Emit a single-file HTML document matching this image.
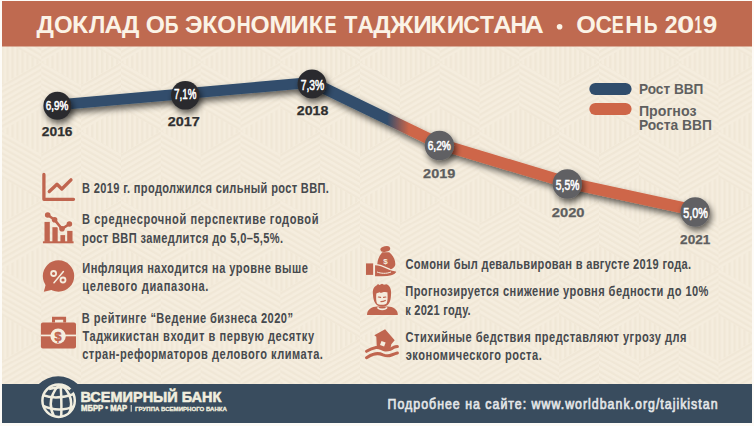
<!DOCTYPE html><html><head><meta charset="utf-8"><style>html,body{margin:0;padding:0;background:#FDFBF7;}svg{display:block;font-family:"Liberation Sans",sans-serif;}</style></head><body>
<svg width="754" height="426" viewBox="0 0 754 426">
<defs>
<filter id="sh" x="-30%" y="-30%" width="160%" height="180%"><feGaussianBlur in="SourceAlpha" stdDeviation="3"/><feOffset dx="1.5" dy="4" result="b"/><feComponentTransfer><feFuncA type="linear" slope="0.6"/></feComponentTransfer><feMerge><feMergeNode/><feMergeNode in="SourceGraphic"/></feMerge></filter>
<linearGradient id="lg" gradientUnits="userSpaceOnUse" x1="387" y1="0" x2="409" y2="0"><stop offset="0" stop-color="#304D6C"/><stop offset="1" stop-color="#CE6648"/></linearGradient>
</defs>
<rect x="0" y="0" width="754" height="426" fill="#FDFBF7"/>
<rect x="2" y="1" width="750" height="422" fill="#F5EDDE"/>
<defs>
<pattern id="pv" width="5" height="5" patternUnits="userSpaceOnUse"><rect width="2.2" height="5" fill="#F0E7D6"/></pattern>
<pattern id="pa" width="5" height="5" patternUnits="userSpaceOnUse" patternTransform="rotate(60)"><rect width="2.2" height="5" fill="#F0E7D6"/></pattern>
<pattern id="pb" width="5" height="5" patternUnits="userSpaceOnUse" patternTransform="rotate(-60)"><rect width="2.2" height="5" fill="#F0E7D6"/></pattern>
<pattern id="cube" width="79.674" height="138.000" patternUnits="userSpaceOnUse" x="1.45" y="85.00"><polygon points="0.00,0.00 -39.84,-23.00 0.00,-46.00 39.84,-23.00" fill="url(#pv)"/><polygon points="0.00,0.00 -39.84,-23.00 -39.84,23.00 0.00,46.00" fill="url(#pb)"/><polygon points="0.00,0.00 39.84,-23.00 39.84,23.00 0.00,46.00" fill="url(#pa)"/><polygon points="79.67,0.00 39.84,-23.00 79.67,-46.00 119.51,-23.00" fill="url(#pv)"/><polygon points="79.67,0.00 39.84,-23.00 39.84,23.00 79.67,46.00" fill="url(#pb)"/><polygon points="79.67,0.00 119.51,-23.00 119.51,23.00 79.67,46.00" fill="url(#pa)"/><polygon points="0.00,138.00 -39.84,115.00 0.00,92.00 39.84,115.00" fill="url(#pv)"/><polygon points="0.00,138.00 -39.84,115.00 -39.84,161.00 0.00,184.00" fill="url(#pb)"/><polygon points="0.00,138.00 39.84,115.00 39.84,161.00 0.00,184.00" fill="url(#pa)"/><polygon points="79.67,138.00 39.84,115.00 79.67,92.00 119.51,115.00" fill="url(#pv)"/><polygon points="79.67,138.00 39.84,115.00 39.84,161.00 79.67,184.00" fill="url(#pb)"/><polygon points="79.67,138.00 119.51,115.00 119.51,161.00 79.67,184.00" fill="url(#pa)"/><polygon points="39.84,69.00 0.00,46.00 39.84,23.00 79.67,46.00" fill="url(#pv)"/><polygon points="39.84,69.00 0.00,46.00 0.00,92.00 39.84,115.00" fill="url(#pb)"/><polygon points="39.84,69.00 79.67,46.00 79.67,92.00 39.84,115.00" fill="url(#pa)"/></pattern>
</defs>
<rect x="2" y="46" width="750" height="338" fill="url(#cube)"/>
<rect x="2" y="1" width="750" height="45.5" fill="#BF6A50"/>
<text x="36.56" y="32.50" font-size="23.91" font-weight="bold" fill="#FBF3E6" textLength="17.37" lengthAdjust="spacingAndGlyphs">Д</text>
<text x="54.14" y="32.50" font-size="23.91" font-weight="bold" fill="#FBF3E6" textLength="18.69" lengthAdjust="spacingAndGlyphs">О</text>
<text x="72.09" y="32.50" font-size="23.91" font-weight="bold" fill="#FBF3E6" textLength="16.02" lengthAdjust="spacingAndGlyphs">К</text>
<text x="89.08" y="32.50" font-size="23.91" font-weight="bold" fill="#FBF3E6" textLength="16.37" lengthAdjust="spacingAndGlyphs">Л</text>
<text x="104.48" y="32.50" font-size="23.91" font-weight="bold" fill="#FBF3E6" textLength="18.00" lengthAdjust="spacingAndGlyphs">А</text>
<text x="121.96" y="32.50" font-size="23.91" font-weight="bold" fill="#FBF3E6" textLength="17.37" lengthAdjust="spacingAndGlyphs">Д</text>
<text x="145.82" y="32.50" font-size="23.91" font-weight="bold" fill="#FBF3E6" textLength="19.14" lengthAdjust="spacingAndGlyphs">О</text>
<text x="164.65" y="32.50" font-size="23.91" font-weight="bold" fill="#FBF3E6" textLength="13.80" lengthAdjust="spacingAndGlyphs">Б</text>
<text x="184.98" y="32.50" font-size="23.91" font-weight="bold" fill="#FBF3E6" textLength="17.54" lengthAdjust="spacingAndGlyphs">Э</text>
<text x="202.29" y="32.50" font-size="23.91" font-weight="bold" fill="#FBF3E6" textLength="15.12" lengthAdjust="spacingAndGlyphs">К</text>
<text x="217.24" y="32.50" font-size="23.91" font-weight="bold" fill="#FBF3E6" textLength="18.69" lengthAdjust="spacingAndGlyphs">О</text>
<text x="236.84" y="32.50" font-size="23.91" font-weight="bold" fill="#FBF3E6" textLength="13.95" lengthAdjust="spacingAndGlyphs">Н</text>
<text x="250.52" y="32.50" font-size="23.91" font-weight="bold" fill="#FBF3E6" textLength="19.14" lengthAdjust="spacingAndGlyphs">О</text>
<text x="269.23" y="32.50" font-size="23.91" font-weight="bold" fill="#FBF3E6" textLength="22.73" lengthAdjust="spacingAndGlyphs">М</text>
<text x="290.32" y="32.50" font-size="23.91" font-weight="bold" fill="#FBF3E6" textLength="18.55" lengthAdjust="spacingAndGlyphs">И</text>
<text x="308.79" y="32.50" font-size="23.91" font-weight="bold" fill="#FBF3E6" textLength="14.22" lengthAdjust="spacingAndGlyphs">К</text>
<text x="324.62" y="32.50" font-size="23.91" font-weight="bold" fill="#FBF3E6" textLength="12.16" lengthAdjust="spacingAndGlyphs">Е</text>
<text x="344.18" y="32.50" font-size="23.91" font-weight="bold" fill="#FBF3E6" textLength="13.15" lengthAdjust="spacingAndGlyphs">Т</text>
<text x="357.32" y="32.50" font-size="23.91" font-weight="bold" fill="#FBF3E6" textLength="16.71" lengthAdjust="spacingAndGlyphs">А</text>
<text x="373.16" y="32.50" font-size="23.91" font-weight="bold" fill="#FBF3E6" textLength="17.37" lengthAdjust="spacingAndGlyphs">Д</text>
<text x="390.40" y="32.50" font-size="23.91" font-weight="bold" fill="#FBF3E6" textLength="22.94" lengthAdjust="spacingAndGlyphs">Ж</text>
<text x="413.31" y="32.50" font-size="23.91" font-weight="bold" fill="#FBF3E6" textLength="18.68" lengthAdjust="spacingAndGlyphs">И</text>
<text x="430.34" y="32.50" font-size="23.91" font-weight="bold" fill="#FBF3E6" textLength="15.57" lengthAdjust="spacingAndGlyphs">К</text>
<text x="446.71" y="32.50" font-size="23.91" font-weight="bold" fill="#FBF3E6" textLength="17.57" lengthAdjust="spacingAndGlyphs">И</text>
<text x="463.28" y="32.50" font-size="23.91" font-weight="bold" fill="#FBF3E6" textLength="16.65" lengthAdjust="spacingAndGlyphs">С</text>
<text x="480.07" y="32.50" font-size="23.91" font-weight="bold" fill="#FBF3E6" textLength="13.98" lengthAdjust="spacingAndGlyphs">Т</text>
<text x="493.16" y="32.50" font-size="23.91" font-weight="bold" fill="#FBF3E6" textLength="18.54" lengthAdjust="spacingAndGlyphs">А</text>
<text x="510.41" y="32.50" font-size="23.91" font-weight="bold" fill="#FBF3E6" textLength="16.52" lengthAdjust="spacingAndGlyphs">Н</text>
<text x="524.74" y="32.50" font-size="23.91" font-weight="bold" fill="#FBF3E6" textLength="18.97" lengthAdjust="spacingAndGlyphs">А</text>
<text x="576.29" y="32.50" font-size="23.91" font-weight="bold" fill="#FBF3E6" textLength="19.59" lengthAdjust="spacingAndGlyphs">О</text>
<text x="595.49" y="32.50" font-size="23.91" font-weight="bold" fill="#FBF3E6" textLength="16.43" lengthAdjust="spacingAndGlyphs">С</text>
<text x="611.63" y="32.50" font-size="23.91" font-weight="bold" fill="#FBF3E6" textLength="12.04" lengthAdjust="spacingAndGlyphs">Е</text>
<text x="625.17" y="32.50" font-size="23.91" font-weight="bold" fill="#FBF3E6" textLength="17.01" lengthAdjust="spacingAndGlyphs">Н</text>
<text x="643.75" y="32.50" font-size="23.91" font-weight="bold" fill="#FBF3E6" textLength="13.80" lengthAdjust="spacingAndGlyphs">Ь</text>
<text x="664.69" y="32.50" font-size="23.91" font-weight="bold" fill="#FBF3E6" textLength="12.86" lengthAdjust="spacingAndGlyphs">2</text>
<text x="676.95" y="32.50" font-size="23.91" font-weight="bold" fill="#FBF3E6" textLength="17.33" lengthAdjust="spacingAndGlyphs">0</text>
<text x="694.40" y="32.50" font-size="23.91" font-weight="bold" fill="#FBF3E6" textLength="7.46" lengthAdjust="spacingAndGlyphs">1</text>
<text x="702.78" y="32.50" font-size="23.91" font-weight="bold" fill="#FBF3E6" textLength="14.56" lengthAdjust="spacingAndGlyphs">9</text>
<circle cx="559.6" cy="26.8" r="2.8" fill="#FBF3E6"/>
<g filter="url(#sh)">
<polyline points="57.3,104.9 185.3,93.6 312,82.4" fill="none" stroke="#304D6C" stroke-width="10.8" stroke-linejoin="round"/>
<line x1="312" y1="82.4" x2="439.4" y2="143.9" stroke="url(#lg)" stroke-width="11.5"/>
<polyline points="439.4,143.9 567.3,182.6 695.2,210.4" fill="none" stroke="#CE6648" stroke-width="11.5" stroke-linejoin="round"/>
</g>
<g filter="url(#sh)">
<circle cx="57.4" cy="105.8" r="14" fill="#2C2C2F"/>
<circle cx="185.3" cy="95.3" r="14.3" fill="#2C2C2F"/>
<circle cx="312" cy="84" r="14.5" fill="#2C2C2F"/>
<circle cx="439.4" cy="145.5" r="14.7" fill="#606164"/>
<circle cx="567.3" cy="184" r="14.7" fill="#606164"/>
<circle cx="695.2" cy="212" r="14.7" fill="#606164"/>
</g>
<text x="45.70" y="110.30" font-size="12.75" font-weight="normal" fill="#FFFFFF" textLength="22.64" lengthAdjust="spacingAndGlyphs" stroke="#FFFFFF" stroke-width="0.55">6,9%</text>
<text x="174.11" y="98.80" font-size="13.91" font-weight="normal" fill="#FFFFFF" textLength="22.22" lengthAdjust="spacingAndGlyphs" stroke="#FFFFFF" stroke-width="0.55">7,1%</text>
<text x="300.68" y="89.60" font-size="14.20" font-weight="normal" fill="#FFFFFF" textLength="23.57" lengthAdjust="spacingAndGlyphs" stroke="#FFFFFF" stroke-width="0.55">7,3%</text>
<text x="427.69" y="150.40" font-size="13.62" font-weight="normal" fill="#FFFFFF" textLength="23.26" lengthAdjust="spacingAndGlyphs" stroke="#FFFFFF" stroke-width="0.55">6,2%</text>
<text x="555.79" y="190.00" font-size="13.77" font-weight="normal" fill="#FFFFFF" textLength="23.57" lengthAdjust="spacingAndGlyphs" stroke="#FFFFFF" stroke-width="0.55">5,5%</text>
<text x="683.27" y="217.80" font-size="13.91" font-weight="normal" fill="#FFFFFF" textLength="24.60" lengthAdjust="spacingAndGlyphs" stroke="#FFFFFF" stroke-width="0.55">5,0%</text>
<text x="41.82" y="135.70" font-size="13.33" font-weight="bold" fill="#303030" textLength="30.66" lengthAdjust="spacingAndGlyphs" stroke="#303030" stroke-width="0.25">2016</text>
<text x="167.80" y="126.00" font-size="13.33" font-weight="bold" fill="#303030" textLength="32.08" lengthAdjust="spacingAndGlyphs" stroke="#303030" stroke-width="0.25">2017</text>
<text x="296.80" y="115.30" font-size="13.33" font-weight="bold" fill="#303030" textLength="31.62" lengthAdjust="spacingAndGlyphs" stroke="#303030" stroke-width="0.25">2018</text>
<text x="423.09" y="177.90" font-size="13.62" font-weight="bold" fill="#5E5E5E" textLength="32.21" lengthAdjust="spacingAndGlyphs" stroke="#5E5E5E" stroke-width="0.25">2019</text>
<text x="551.78" y="216.90" font-size="13.62" font-weight="bold" fill="#5E5E5E" textLength="32.80" lengthAdjust="spacingAndGlyphs" stroke="#5E5E5E" stroke-width="0.25">2020</text>
<text x="680.12" y="244.20" font-size="13.62" font-weight="bold" fill="#5E5E5E" textLength="30.21" lengthAdjust="spacingAndGlyphs" stroke="#5E5E5E" stroke-width="0.25">2021</text>
<rect x="589.3" y="83" width="42.3" height="12" rx="6" fill="#304D6C"/>
<rect x="589.3" y="103" width="42.3" height="12" rx="6" fill="#CE6648"/>
<text x="638.91" y="94.00" font-size="14.49" font-weight="bold" fill="#5F5F5F" textLength="64.50" lengthAdjust="spacingAndGlyphs">Рост ВВП</text>
<text x="638.88" y="115.50" font-size="14.49" font-weight="bold" fill="#5F5F5F" textLength="57.56" lengthAdjust="spacingAndGlyphs">Прогноз</text>
<text x="638.90" y="130.30" font-size="14.49" font-weight="bold" fill="#5F5F5F" textLength="73.04" lengthAdjust="spacingAndGlyphs">Роста ВВП</text>
<text transform="scale(0.78,1)" x="105.23" y="193.30" font-size="14.20" font-weight="bold" fill="#474A4E" letter-spacing="0.433">В 2019 г. продолжился сильный рост ВВП.</text>
<text transform="scale(0.78,1)" x="105.23" y="224.40" font-size="14.20" font-weight="bold" fill="#474A4E" letter-spacing="0.759">В среднесрочной перспективе годовой</text>
<text transform="scale(0.78,1)" x="105.23" y="242.90" font-size="14.20" font-weight="bold" fill="#474A4E" letter-spacing="0.479">рост ВВП замедлится до 5,0–5,5%.</text>
<text transform="scale(0.78,1)" x="105.49" y="273.00" font-size="14.20" font-weight="bold" fill="#474A4E" letter-spacing="0.605">Инфляция находится на уровне выше</text>
<text transform="scale(0.78,1)" x="105.42" y="290.90" font-size="14.20" font-weight="bold" fill="#474A4E" letter-spacing="0.829">целевого диапазона.</text>
<text transform="scale(0.78,1)" x="104.97" y="323.00" font-size="14.20" font-weight="bold" fill="#474A4E" letter-spacing="0.583">В рейтинге “Ведение бизнеса 2020”</text>
<text transform="scale(0.78,1)" x="105.76" y="341.50" font-size="14.20" font-weight="bold" fill="#474A4E" letter-spacing="0.695">Таджикистан входит в первую десятку</text>
<text transform="scale(0.78,1)" x="105.33" y="359.00" font-size="14.20" font-weight="bold" fill="#474A4E" letter-spacing="0.644">стран-реформаторов делового климата.</text>
<text transform="scale(0.78,1)" x="519.94" y="269.30" font-size="14.20" font-weight="bold" fill="#474A4E" letter-spacing="0.424">Сомони был девальвирован в августе 2019 года.</text>
<text transform="scale(0.78,1)" x="519.59" y="296.30" font-size="14.20" font-weight="bold" fill="#474A4E" letter-spacing="0.553">Прогнозируется снижение уровня бедности до 10%</text>
<text transform="scale(0.78,1)" x="519.52" y="315.00" font-size="14.20" font-weight="bold" fill="#474A4E" letter-spacing="0.313">к 2021 году.</text>
<text transform="scale(0.78,1)" x="519.94" y="341.80" font-size="14.20" font-weight="bold" fill="#474A4E" letter-spacing="0.622">Стихийные бедствия представляют угрозу для</text>
<text transform="scale(0.78,1)" x="520.16" y="359.80" font-size="14.20" font-weight="bold" fill="#474A4E" letter-spacing="0.663">экономического роста.</text>
<g fill="none" stroke="#C0654F" stroke-width="3.3" stroke-linecap="round" stroke-linejoin="round">
<polyline points="43.9,174.5 43.9,199.3 73.5,199.3"/>
<polyline points="49.3,191.5 57,184.3 61.8,189 71,179.8"/>
</g>
<g fill="#C0654F">
<rect x="42.9" y="241.3" width="30.7" height="2"/>
<rect x="44.5" y="221.9" width="5.3" height="20"/>
<rect x="52.4" y="227.2" width="5.3" height="15"/>
<rect x="60.4" y="235.1" width="4.7" height="7"/>
<rect x="67.2" y="230.9" width="5.3" height="11"/>
</g>
<polyline points="47.7,215 54.6,219.8 62,228.8 69.4,224" fill="none" stroke="#F5EDDE" stroke-width="5" stroke-linejoin="round"/>
<circle cx="47.7" cy="215" r="3.9" fill="#F5EDDE"/>
<circle cx="54.6" cy="219.8" r="3.9" fill="#F5EDDE"/>
<circle cx="62" cy="228.8" r="3.9" fill="#F5EDDE"/>
<circle cx="69.4" cy="224" r="3.9" fill="#F5EDDE"/>
<polyline points="47.7,215 54.6,219.8 62,228.8 69.4,224" fill="none" stroke="#C0654F" stroke-width="2.6" stroke-linejoin="round"/>
<circle cx="47.7" cy="215" r="2.8" fill="#C0654F"/>
<circle cx="54.6" cy="219.8" r="2.8" fill="#C0654F"/>
<circle cx="62" cy="228.8" r="2.8" fill="#C0654F"/>
<circle cx="69.4" cy="224" r="2.8" fill="#C0654F"/>
<circle cx="58.5" cy="276" r="15.7" fill="#C0654F"/>
<path d="M46,283.5 L43.8,291.8 L53.5,289.5 Z" fill="#C0654F"/>
<g fill="none" stroke="#F5EDDE" stroke-width="1.8">
<circle cx="53.6" cy="273.5" r="2.5"/><circle cx="63" cy="280" r="2.5"/>
<line x1="63.4" y1="271.5" x2="54" y2="282.8" stroke-width="1.5" stroke-linecap="round"/>
</g>
<path d="M52,322.6 V316.7 H66.1 V322.6 H63.2 V319.7 H55 V322.6 Z" fill="#C0654F"/>
<rect x="40.9" y="322.6" width="35.1" height="25.8" rx="2" fill="#C0654F"/>
<rect x="40.9" y="334.6" width="35.1" height="1.7" fill="#F5EDDE"/>
<circle cx="58.1" cy="336.1" r="7.7" fill="#F5EDDE"/>
<text x="58.1" y="340.6" font-size="12.5" font-weight="bold" fill="#C0654F" stroke="#C0654F" stroke-width="0.5" text-anchor="middle">$</text>
<g fill="#C0654F">
<ellipse cx="385.3" cy="249" rx="5" ry="2.9" transform="rotate(-12 385.3 249)"/>
<path d="M382.3,252.3 H389.2 C393.5,255.5 395.8,261 395.2,265 C394.5,268.5 389.5,270.5 385.5,270.5 C380.5,270.5 377,268.5 377.3,264 C377.6,259 379.8,255 382.3,252.3 Z"/>
<rect x="366" y="263.4" width="7.2" height="11.5"/>
</g>
<path d="M374.4,264.6 C380,264.2 385,267 390,269.5 C393,270.8 396,270 397.4,271.8 C395,275.5 389,277 382,277 L374.4,277 Z" fill="#C0654F" stroke="#F5EDDE" stroke-width="1.3"/>
<path d="M377,272 C381,273.5 386,274 391,272" fill="none" stroke="#F5EDDE" stroke-width="1"/>
<text x="385.5" y="263.5" font-size="8" font-weight="bold" fill="#F5EDDE" text-anchor="middle">$</text>
<g fill="#C0654F">
<path d="M367,315 C367,309.5 371.5,306.5 377.5,306.5 H387.5 C393.5,306.5 397.8,309.5 397.8,315 Z"/>
<path d="M373,295 C372.3,289.5 374,286.5 376.5,285.5 L378,284 L379.5,285 L382,283.8 L384,284.8 L386.5,284.3 C389.5,285.5 391.8,289 391,295 C390.8,301.5 389,306.8 382.3,306.8 C375.8,306.8 373.3,301.5 373,295 Z"/>
</g>
<path d="M376.3,293.5 C378.5,292 381,293.2 383,292.2 C385,291.5 387,292.6 387.4,292.3 C387.8,297 387.8,301 386.6,303.4 C385.3,305.2 378.3,305.2 377,303.4 C376,301.5 376,297 376.3,293.5 Z" fill="#F5EDDE"/>
<path d="M377.5,307.3 C379,310 385.5,310 387,307.3" fill="none" stroke="#F5EDDE" stroke-width="1.6"/>
<g stroke="#C0654F" stroke-width="1.2" fill="none" stroke-linecap="round"><path d="M378.4,297 L380.6,297.4"/><path d="M383.6,297.4 L385.8,297"/><path d="M380.9,301.6 Q383.2,301.6 385.3,300.5"/></g>
<path d="M385.1,329.3 L394.7,340.3 L391.3,344.2 L390,350.5 L376.8,347.5 L376.3,336.8 L374.3,335.2 Z" fill="#C0654F"/>
<rect x="380.6" y="341.6" width="4.4" height="4.4" fill="#F5EDDE" transform="rotate(20 382.8 343.8)"/>
<path d="M366.5,351.3 C369,349.8 372,348.2 376,347.5 C380,347 382,349.7 385,349.9 C389,350.1 391,349.7 393.6,347.4 C395,346.6 396.5,346.4 397.4,346.4" fill="none" stroke="#C0654F" stroke-width="3" stroke-linecap="round"/>
<path d="M366.5,357.7 C369,356 371,354.8 373.5,354.2 C377,353.2 380,353.5 383,354.8 C386,356 389,356 391.5,355 C394,354 396,353.2 397.4,353" fill="none" stroke="#C0654F" stroke-width="3" stroke-linecap="round"/>
<rect x="2" y="384" width="750" height="39" fill="#394C5E"/>
<path d="M38.2,384.5 A28.5,28.5 0 0 1 78.2,384.5 Z" fill="#394C5E"/>
<clipPath id="gc"><circle cx="58.6" cy="400.7" r="16.6"/></clipPath>
<g fill="none" stroke="#F1EEDF" stroke-width="2.5">
<circle cx="58.6" cy="400.7" r="16.2"/>
<g clip-path="url(#gc)">
<path d="M60.6,384.5 Q61.8,400 61.2,418"/>
<path d="M59.5,384.5 Q45,400 54.5,417.5"/>
<path d="M61.5,384.5 Q77,399 67.7,416.5"/>
<path d="M49,389 Q60,386 71.5,388.5"/>
<path d="M42,395 Q57,400.5 75,393.5"/>
<path d="M42,405.5 Q59.5,413.5 75.5,405.5"/>
</g></g>
<path d="M70.25,389.45 A16.2,16.2 0 0 1 72.63,392.60" fill="none" stroke="#394C5E" stroke-width="3.2"/>
<text x="80.46" y="401.50" font-size="15.36" font-weight="bold" fill="#F1EEDF" textLength="140.95" lengthAdjust="spacingAndGlyphs" stroke="#F1EEDF" stroke-width="0.6">ВСЕМИРНЫЙ БАНК</text>
<text x="81.10" y="410.70" font-size="8.26" font-weight="bold" fill="#F1EEDF" textLength="46.16" lengthAdjust="spacingAndGlyphs" stroke="#F1EEDF" stroke-width="0.5">МБРР • МАР</text>
<rect x="130.7" y="405" width="1" height="6.7" fill="#F1EEDF"/>
<text x="135.11" y="410.60" font-size="5.51" font-weight="bold" fill="#F1EEDF" textLength="91.77" lengthAdjust="spacingAndGlyphs" stroke="#F1EEDF" stroke-width="0.3">ГРУППА ВСЕМИРНОГО БАНКА</text>
<text transform="scale(0.82,1)" x="472.70" y="408.70" font-size="15.07" font-weight="normal" fill="#E4E6E8" letter-spacing="1.237" stroke="#E4E6E8" stroke-width="0.7">Подробнее на сайте: www.worldbank.org/tajikistan</text>
</svg></body></html>
